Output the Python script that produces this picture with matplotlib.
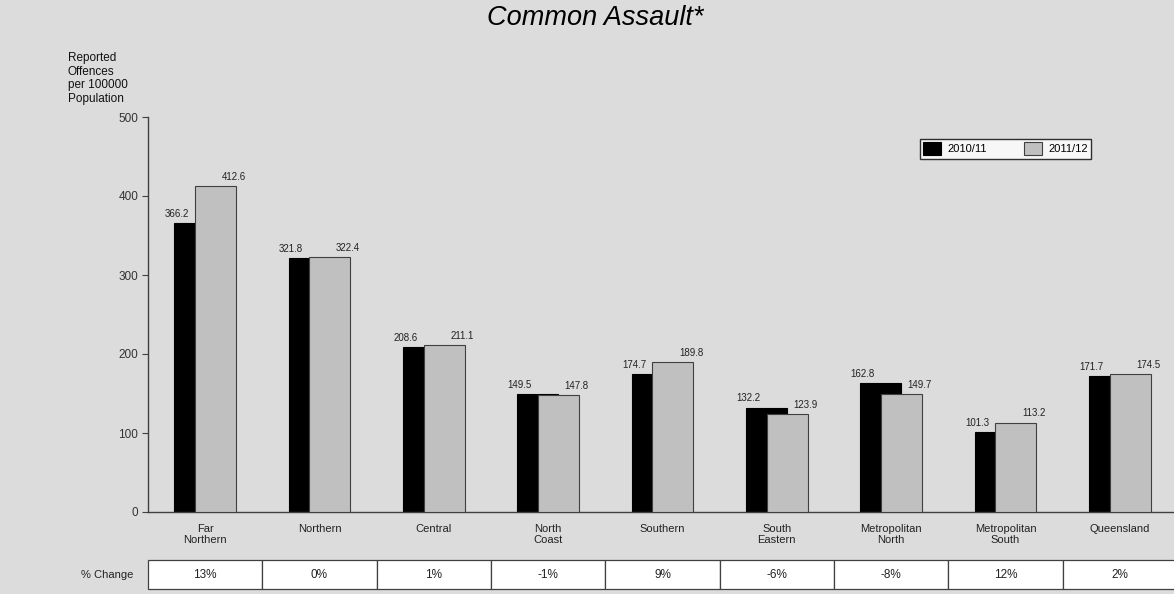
import numpy as np
import matplotlib.pyplot as plt

# Data
regions = ["Far\nNorthern", "Northern", "Central", "North\nCoast", "Southern",
           "South\nEastern", "Metropolitan\nNorth", "Metropolitan\nSouth", "Queensland"]
rate_2010 = [366.2, 321.8, 208.6, 149.5, 174.7, 132.2, 162.8, 101.3, 171.7]
rate_2011 = [412.6, 322.4, 211.1, 147.8, 189.8, 123.9, 149.7, 113.2, 174.5]
pct_change = ["13%", "0%", "1%", "-1%", "9%", "-6%", "-8%", "12%", "2%"]
y_ticks = [0, 100, 200, 300, 400, 500]


def main():
    plt.rcParams['font.family'] = ['Liberation Sans', 'DejaVu Sans']
    bg = '#dcdcdc'
    W, H = 1174, 594
    fig = plt.figure(figsize=(W / 100, H / 100), dpi=100, facecolor=bg)

    # main plot area (pixel positions from the reference)
    left, right, top, bottom = 148, 1177, 117, 512
    ax = fig.add_axes([left / W, 1 - bottom / H, (right - left) / W, (bottom - top) / H])
    ax.set_facecolor(bg)

    x = np.arange(len(regions))
    w = 0.36
    off = 0.09
    ax.bar(x - off, rate_2010, w, color='black', edgecolor='black', linewidth=0.8,
           label='2010/11', zorder=2)
    ax.bar(x + off, rate_2011, w, color='#c0c0c0', edgecolor='#404040', linewidth=0.8,
           label='2011/12', zorder=3)

    # value labels
    for i in range(len(regions)):
        ax.annotate(f"{rate_2010[i]:.1f}", (x[i] - off - 0.16, rate_2010[i]),
                    xytext=(0, 3), textcoords='offset points', ha='center', va='bottom',
                    fontsize=7, color='#222222')
        ax.annotate(f"{rate_2011[i]:.1f}", (x[i] + off + 0.16, rate_2011[i]),
                    xytext=(0, 3), textcoords='offset points', ha='center', va='bottom',
                    fontsize=7, color='#222222')

    ax.set_xlim(-0.5, len(regions) - 0.5)
    ax.set_ylim(0, 500)
    ax.set_yticks(y_ticks)
    ax.tick_params(axis='y', labelsize=8.5, colors='#404040', length=4, width=0.8, pad=3)
    ax.tick_params(axis='y', labelcolor='#333333')
    ax.set_xticks(x)
    ax.set_xticklabels(regions, fontsize=8, color='#222222', linespacing=1.1)
    ax.tick_params(axis='x', length=0, pad=9)
    for s in ['top', 'right']:
        ax.spines[s].set_visible(False)
    for s in ['left', 'bottom']:
        ax.spines[s].set_color('#404040')
        ax.spines[s].set_linewidth(1.0)

    fig.text(68 / W, 1 - 52 / H, "Reported\nOffences\nper 100000\nPopulation",
             ha='left', va='top', fontsize=8.5, linespacing=1.17, color='#111111')

    fig.text(595 / W, 1 - 18 / H, "Common Assault*", ha='center', va='center',
             fontsize=19.5, style='italic', color='black')

    leg = ax.legend(loc='upper left', bbox_to_anchor=(920 / W, 1 - 139 / H),
                    bbox_transform=fig.transFigure, ncol=2, fontsize=8,
                    frameon=True, fancybox=False, borderaxespad=0,
                    handlelength=1.6, handleheight=1.4, handletextpad=0.6,
                    columnspacing=3.3, borderpad=0.3)
    leg.get_frame().set_facecolor('white')
    leg.get_frame().set_edgecolor('black')
    leg.get_frame().set_linewidth(1.0)

    # % change table row
    tab_top, tab_bot = 560, 589
    tax = fig.add_axes([left / W, 1 - tab_bot / H, (right - left) / W, (tab_bot - tab_top) / H])
    tax.axis('off')
    tbl = tax.table(cellText=[pct_change], cellLoc='center', bbox=[0, 0, 1, 1])
    tbl.auto_set_font_size(False)
    tbl.set_fontsize(8.5)
    for cell in tbl.get_celld().values():
        cell.set_edgecolor('#404040')
        cell.set_linewidth(0.9)
        cell.set_facecolor('white')
        cell.get_text().set_color('#222222')
    fig.text(133 / W, 1 - 575 / H, "% Change", ha='right', va='center',
             fontsize=8, color='#222222')

    fig.savefig('out.png', dpi=100, facecolor=bg)


if __name__ == "__main__":
    main()
